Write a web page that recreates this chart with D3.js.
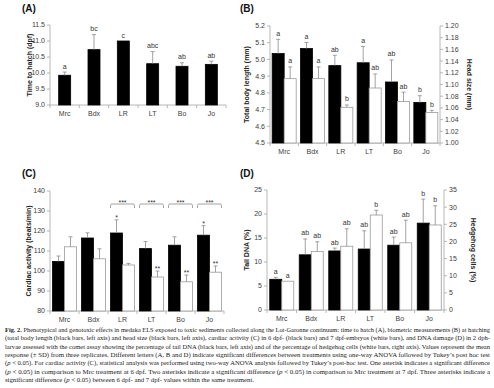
<!DOCTYPE html>
<html lang="en">
<head>
    <meta charset="utf-8">
    <title>Fig. 2</title>
    <style>
        body { margin: 0; background: #fff; }
        svg { display: block; }
        .tick-label { font: 7px "Liberation Sans", Arial, sans-serif; fill: #404040; }
        .axis-title { font: bold 7px "Liberation Sans", Arial, sans-serif; fill: #262626; }
        .panel-title { font: bold 10px "Liberation Sans", Arial, sans-serif; fill: #111; }
        .mark-label { font: 7px "Liberation Sans", Arial, sans-serif; fill: #333; }
        .caption { font: 6.4px "Liberation Serif", "Times New Roman", serif; fill: #1a1a1a; }
    </style>
</head>
<body>
<script src="https://cdn.jsdelivr.net/npm/d3@7"></script>
<script>

    var cats = ["Mrc", "Bdx", "LR", "LT", "Bo", "Jo"];

    // (A) time to hatch
    var hatchTime = [9.93, 10.73, 11.0, 10.29, 10.21, 10.27];
    var hatchSd = [0.10, 0.47, 0, 0.38, 0.11, 0.10];
    var hatchLetters = ["a", "bc", "c", "abc", "ab", "ab"];
    var hatchTicks = [9.0, 9.5, 10.0, 10.5, 11.0, 11.5];

    // (B) biometry
    var bodyLength = [5.035, 5.065, 4.963, 4.98, 4.865, 4.743];
    var bodySd = [0.085, 0.036, 0.062, 0.097, 0.132, 0.040];
    var bodyLetters = ["a", "a", "ab", "a", "ab", "b"];
    var headSize = [1.110, 1.110, 1.061, 1.094, 1.071, 1.052];
    var headSd = [0.020, 0.020, 0.004, 0.024, 0.016, 0.004];
    var headLetters = ["a", "a", "b", "ab", "ab", "b"];
    var bodyTicks = [4.5, 4.6, 4.7, 4.8, 4.9, 5.0, 5.1, 5.2];
    var headTicks = [1.00, 1.02, 1.04, 1.06, 1.08, 1.10, 1.12, 1.14, 1.16, 1.18, 1.20];

    // (C) cardiac activity
    var cardiac6 = [104.8, 116.5, 119.0, 111.2, 112.9, 117.9];
    var cardiac6Sd = [2.7, 2.6, 6.6, 3.5, 4.2, 4.8];
    var cardiac6Stars = ["", "", "*", "", "", "*"];
    var cardiac7 = [112.1, 106.1, 103.0, 97.0, 94.6, 99.4];
    var cardiac7Sd = [5.0, 5.0, 0.8, 3.0, 3.4, 3.1];
    var cardiac7Stars = ["", "", "", "**", "**", "**"];
    var bracketStars = ["", "", "***", "***", "***", "***"];
    var cardiacTicks = [80, 90, 100, 110, 120, 130, 140];

    // (D) DNA damage
    var tailDna = [6.4, 11.5, 12.3, 12.7, 13.5, 18.1];
    var tailSd = [0.4, 3.3, 0.6, 3.8, 1.7, 5.0];
    var tailLetters = ["a", "ab", "ab", "ab", "ab", "b"];
    var hedgehog = [8.4, 17.1, 18.6, 27.7, 19.6, 24.8];
    var hedgehogSd = [0, 2.8, 5.1, 1.4, 6.6, 5.6];
    var hedgehogLetters = ["a", "ab", "ab", "b", "ab", "b"];
    var tailTicks = [0, 5, 10, 15, 20, 25];
    var hedgehogTicks = [0, 5, 10, 15, 20, 25, 30, 35];

    var captionLines = [
        [["b", "Fig. 2."], ["", " Phenotypical and genotoxic effects in medaka ELS exposed to toxic sediments collected along the Lot-Garonne continuum: time to hatch (A), biometric measurements (B) at hatching"]],
        [["", "(total body length (black bars, left axis) and head size (black bars, left axis), cardiac activity (C) in 6 dpf- (black bars) and 7 dpf-embryos (white bars), and DNA damage (D) in 2 dph-"]],
        [["", "larvae assessed with the comet assay showing the percentage of tail DNA (black bars, left axis) and of the percentage of hedgehog cells (white bars, right axis). Values represent the mean"]],
        [["", "response (\u00b1 SD) from three replicates. Different letters (A, B and D) indicate significant differences between treatments using one-way ANOVA followed by Tukey\u2019s post hoc test"]],
        [["", "("], ["i", "p"], ["", " < 0.05). For cardiac activity (C), statistical analysis was performed using two-way ANOVA analysis followed by Tukey\u2019s post-hoc test. One asterisk indicates a significant difference"]],
        [["", "("], ["i", "p"], ["", " < 0.05) in comparison to Mrc treatment at 6 dpf. Two asterisks indicate a significant difference ("], ["i", "p"], ["", " < 0.05) in comparison to Mrc treatment at 7 dpf. Three asterisks indicate a"]],
        [["", "significant difference ("], ["i", "p"], ["", " < 0.05) between 6 dpf- and 7 dpf- values within the same treatment."]]
    ];

    var axisColor = "#a6a6a6",
        errColor = "#8c8c8c",
        barW = 12;

    var svg = d3.select("body").append("svg")
            .attr("width", 494)
            .attr("height", 388);

    function drawPanel(p) {
        var g = svg.append("g");

        var x = d3.scaleBand().domain(cats).range([p.x0, p.x1]);
        var yL = d3.scaleLinear().domain(p.leftDomain).range([p.y1, p.y0]);
        var yR = p.rightDomain ? d3.scaleLinear().domain(p.rightDomain).range([p.y1, p.y0]) : null;

        // axes
        g.append("line").attr("x1", p.x0).attr("x2", p.x0).attr("y1", p.y0).attr("y2", p.y1)
                .attr("stroke", axisColor).attr("stroke-width", 0.8);
        g.append("line").attr("x1", p.x0).attr("x2", p.x1).attr("y1", p.y1).attr("y2", p.y1)
                .attr("stroke", axisColor).attr("stroke-width", 0.8);

        g.selectAll(".ltick").data(p.leftTicks).enter().append("line")
                .attr("x1", p.x0 - 3).attr("x2", p.x0)
                .attr("y1", function(d) { return yL(d); }).attr("y2", function(d) { return yL(d); })
                .attr("stroke", axisColor).attr("stroke-width", 0.8);
        g.selectAll(".llab").data(p.leftTicks).enter().append("text")
                .attr("class", "tick-label")
                .attr("x", p.x0 - 5)
                .attr("y", function(d) { return yL(d); })
                .attr("dy", "0.35em")
                .attr("text-anchor", "end")
                .text(function(d) { return d3.format(p.leftFormat)(d); });

        if (yR) {
            g.append("line").attr("x1", p.x1).attr("x2", p.x1).attr("y1", p.y0).attr("y2", p.y1)
                    .attr("stroke", axisColor).attr("stroke-width", 0.8);
            g.selectAll(".rtick").data(p.rightTicks).enter().append("line")
                    .attr("x1", p.x1).attr("x2", p.x1 + 3)
                    .attr("y1", function(d) { return yR(d); }).attr("y2", function(d) { return yR(d); })
                    .attr("stroke", axisColor).attr("stroke-width", 0.8);
            g.selectAll(".rlab").data(p.rightTicks).enter().append("text")
                    .attr("class", "tick-label")
                    .attr("x", p.x1 + 5)
                    .attr("y", function(d) { return yR(d); })
                    .attr("dy", "0.35em")
                    .text(function(d) { return d3.format(p.rightFormat)(d); });
        }

        // category ticks between bands
        g.selectAll(".xtick").data(d3.range(cats.length + 1)).enter().append("line")
                .attr("x1", function(i) { return p.x0 + i * x.bandwidth(); })
                .attr("x2", function(i) { return p.x0 + i * x.bandwidth(); })
                .attr("y1", p.y1).attr("y2", p.y1 + 3)
                .attr("stroke", axisColor).attr("stroke-width", 0.8);
        g.selectAll(".xlab").data(cats).enter().append("text")
                .attr("class", "tick-label")
                .attr("x", function(d) { return x(d) + x.bandwidth() / 2; })
                .attr("y", p.y1 + 10.5)
                .attr("text-anchor", "middle")
                .text(function(d) { return d; });

        // series
        p.series.forEach(function(s) {
            var y = s.axis === "right" ? yR : yL;
            var rows = cats.map(function(c, i) {
                var cx = x(c) + x.bandwidth() / 2 + s.offset;
                return {cat: c, cx: cx, v: s.values[i], sd: s.sd[i], lab: s.labels[i]};
            });

            g.selectAll(null).data(rows).enter().append("rect")
                    .attr("x", function(d) { return d.cx - barW / 2; })
                    .attr("y", function(d) { return y(d.v); })
                    .attr("width", barW)
                    .attr("height", function(d) { return p.y1 - y(d.v); })
                    .attr("fill", s.fill)
                    .attr("stroke", s.stroke)
                    .attr("stroke-width", 0.8);

            var errs = rows.filter(function(d) { return d.sd > 0; });
            g.selectAll(null).data(errs).enter().append("line")
                    .attr("x1", function(d) { return d.cx; }).attr("x2", function(d) { return d.cx; })
                    .attr("y1", function(d) { return y(d.v); })
                    .attr("y2", function(d) { return y(d.v + d.sd); })
                    .attr("stroke", errColor).attr("stroke-width", 0.8);
            g.selectAll(null).data(errs).enter().append("line")
                    .attr("x1", function(d) { return d.cx - 2; }).attr("x2", function(d) { return d.cx + 2; })
                    .attr("y1", function(d) { return y(d.v + d.sd); })
                    .attr("y2", function(d) { return y(d.v + d.sd); })
                    .attr("stroke", errColor).attr("stroke-width", 0.8);

            g.selectAll(null).data(rows.filter(function(d) { return d.lab; })).enter().append("text")
                    .attr("class", "mark-label")
                    .attr("x", function(d) { return d.cx; })
                    .attr("y", function(d) { return y(d.v + d.sd) - (d.lab.charAt(0) === "*" ? 0 : 3.5); })
                    .attr("text-anchor", "middle")
                    .text(function(d) { return d.lab; });
        });

        // brackets between the 6 and 7 dpf bars
        if (p.brackets) {
            var by = yL(p.bracketLevel);
            cats.forEach(function(c, i) {
                if (!p.brackets[i]) return;
                var cx = x(c) + x.bandwidth() / 2,
                    l = cx - barW, r = cx + barW;
                g.append("path")
                        .attr("d", "M" + l + "," + (by + 4) + "V" + (by + 1.5) + "Q" + l + "," + by + " " + (l + 1.5) + "," + by
                                + "H" + (r - 1.5) + "Q" + r + "," + by + " " + r + "," + (by + 1.5) + "V" + (by + 4))
                        .attr("fill", "none")
                        .attr("stroke", errColor)
                        .attr("stroke-width", 0.8);
                g.append("text")
                        .attr("class", "mark-label")
                        .attr("x", cx)
                        .attr("y", by + 0.5)
                        .attr("text-anchor", "middle")
                        .text(p.brackets[i]);
            });
        }

        // titles
        g.append("text").attr("class", "panel-title")
                .attr("x", p.titleX).attr("y", p.titleY).text(p.title);
        var my = (p.y0 + p.y1) / 2;
        g.append("text").attr("class", "axis-title")
                .attr("transform", "translate(" + p.leftLabelX + "," + my + ") rotate(-90)")
                .attr("text-anchor", "middle")
                .attr("dy", "0.35em")
                .text(p.leftLabel);
        if (p.rightLabel) {
            g.append("text").attr("class", "axis-title")
                    .attr("transform", "translate(" + p.rightLabelX + "," + my + ") rotate(90)")
                    .attr("text-anchor", "middle")
                    .attr("dy", "0.35em")
                    .text(p.rightLabel);
        }
    }

    drawPanel({
        title: "(A)", titleX: 22, titleY: 12,
        x0: 50, x1: 226, y0: 25, y1: 105,
        leftDomain: [9.0, 11.5], leftTicks: hatchTicks, leftFormat: ".1f",
        leftLabel: "Time to hatch (dpf)", leftLabelX: 30,
        series: [
            {values: hatchTime, sd: hatchSd, labels: hatchLetters, fill: "#000", stroke: "#000", offset: 0}
        ]
    });

    drawPanel({
        title: "(B)", titleX: 240, titleY: 12,
        x0: 270, x1: 440, y0: 26, y1: 143,
        leftDomain: [4.5, 5.2], leftTicks: bodyTicks, leftFormat: ".1f",
        rightDomain: [1.0, 1.2], rightTicks: headTicks, rightFormat: ".2f",
        leftLabel: "Total body length (mm)", leftLabelX: 247,
        rightLabel: "Head size (mm)", rightLabelX: 469,
        series: [
            {values: bodyLength, sd: bodySd, labels: bodyLetters, fill: "#000", stroke: "#000", offset: -6},
            {values: headSize, sd: headSd, labels: headLetters, fill: "#fff", stroke: "#9a9a9a", offset: 6, axis: "right"}
        ]
    });

    drawPanel({
        title: "(C)", titleX: 22, titleY: 177,
        x0: 50, x1: 224, y0: 191, y1: 311,
        leftDomain: [80, 140], leftTicks: cardiacTicks, leftFormat: "d",
        leftLabel: "Cardiac activity (beats/min)", leftLabelX: 29,
        series: [
            {values: cardiac6, sd: cardiac6Sd, labels: cardiac6Stars, fill: "#000", stroke: "#000", offset: -6},
            {values: cardiac7, sd: cardiac7Sd, labels: cardiac7Stars, fill: "#fff", stroke: "#9a9a9a", offset: 6}
        ],
        brackets: bracketStars, bracketLevel: 133.5
    });

    drawPanel({
        title: "(D)", titleX: 240, titleY: 177,
        x0: 267, x1: 444, y0: 190, y1: 310,
        leftDomain: [0, 25], leftTicks: tailTicks, leftFormat: "d",
        rightDomain: [0, 35], rightTicks: hedgehogTicks, rightFormat: "d",
        leftLabel: "Tail DNA (%)", leftLabelX: 247,
        rightLabel: "Hedgehog cells (%)", rightLabelX: 473,
        series: [
            {values: tailDna, sd: tailSd, labels: tailLetters, fill: "#000", stroke: "#000", offset: -6},
            {values: hedgehog, sd: hedgehogSd, labels: hedgehogLetters, fill: "#fff", stroke: "#9a9a9a", offset: 6, axis: "right"}
        ]
    });

    // caption, justified line by line
    var cap = svg.append("g");
    captionLines.forEach(function(parts, i) {
        var last = i === captionLines.length - 1;
        var t = cap.append("text")
                .attr("class", "caption")
                .attr("x", 5)
                .attr("y", 332 + i * 8.3)
                .attr("textLength", last ? 249 : 485)
                .attr("lengthAdjust", "spacingAndGlyphs");
        parts.forEach(function(pt) {
            t.append("tspan")
                    .attr("font-weight", pt[0] === "b" ? "bold" : null)
                    .attr("font-style", pt[0] === "i" ? "italic" : null)
                    .text(pt[1]);
        });
    });

</script>
</body>
</html>
